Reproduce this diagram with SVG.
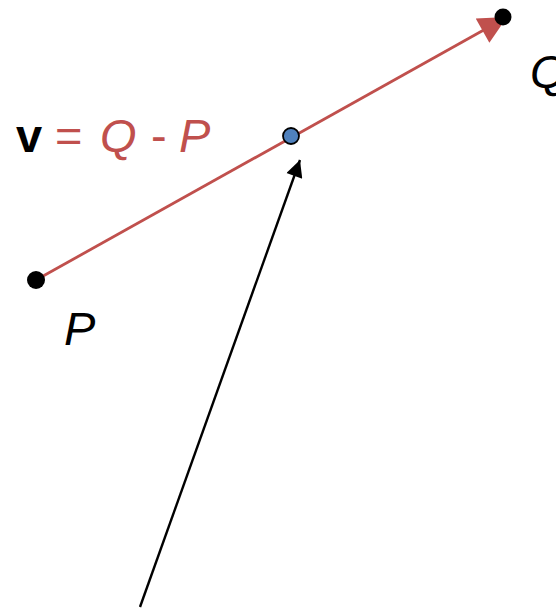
<svg xmlns="http://www.w3.org/2000/svg" width="556" height="613" viewBox="0 0 556 613">
<style>
.lbl{font-family:"Liberation Sans",Arial,sans-serif;font-size:47px}
.it{font-style:italic}
.red{fill:#c0504d}
</style>
<defs>
<marker id="ahRed" viewBox="0 0 10 10" refX="10" refY="5" markerWidth="11" markerHeight="10" markerUnits="strokeWidth" orient="auto">
<path d="M0,0 L10,5 L0,10 z" fill="#c0504d"/>
</marker>
<marker id="ahBlack" viewBox="0 0 10 10" refX="10" refY="5" markerWidth="9" markerHeight="7" markerUnits="strokeWidth" orient="auto">
<path d="M0,0 L10,5 L0,10 z" fill="#000"/>
</marker>
</defs>
<g id="connectors">
<line id="vecPQ" x1="36" y1="280" x2="507" y2="17" stroke="#c0504d" stroke-width="2.8" marker-end="url(#ahRed)"/>
<line id="ray" x1="140" y1="607" x2="300" y2="160" stroke="#000" stroke-width="2.4" marker-end="url(#ahBlack)"/>
</g>
<g id="P">
<circle cx="36" cy="280" r="9" fill="#000"/>
<text class="lbl it" x="64" y="345">P</text>
</g>
<g id="Q">
<circle cx="503" cy="17" r="8.5" fill="#000"/>
<text class="lbl it" x="530" y="88">Q</text>
</g>
<g id="mid">
<circle cx="291" cy="136" r="8" fill="#4f81bd" stroke="#000" stroke-width="1.8"/>
</g>
<g id="eq">
<text class="lbl" x="16" y="152"><tspan font-weight="bold">v</tspan><tspan class="red" x="55">=</tspan><tspan class="red it" x="100">Q</tspan><tspan class="red" x="151">-</tspan><tspan class="red it" x="179">P</tspan></text>
</g>
</svg>
